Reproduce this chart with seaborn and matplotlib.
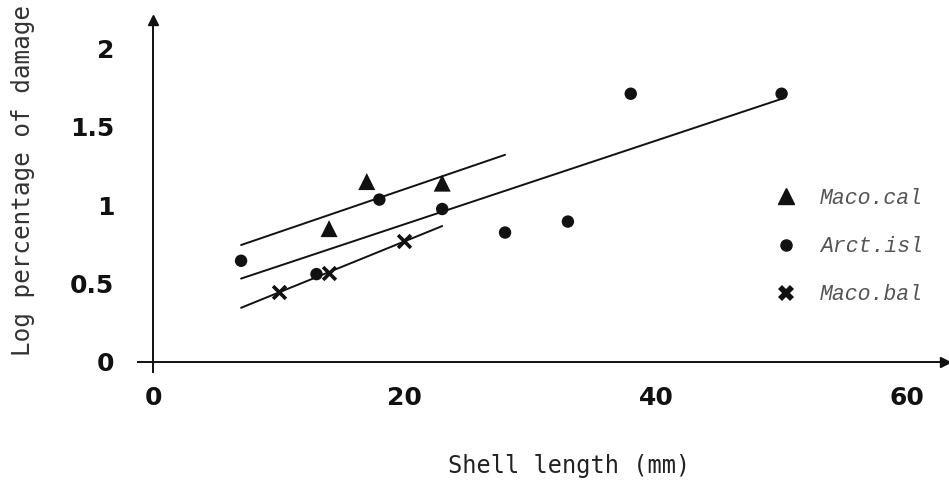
import numpy as np
import pandas as pd
import matplotlib
matplotlib.use("Agg")
import matplotlib.pyplot as plt
import seaborn as sns
from matplotlib.lines import Line2D

# ---- data ----
species = ["Maco.cal", "Arct.isl", "Maco.bal"]
maco_cal_x = [14, 17, 23]
maco_cal_y = [0.85, 1.15, 1.14]
arct_isl_x = [7, 13, 18, 23, 28, 33, 38, 50]
arct_isl_y = [0.645, 0.56, 1.035, 0.975, 0.825, 0.895, 1.71, 1.71]
maco_bal_x = [10, 14, 20]
maco_bal_y = [0.445, 0.57, 0.77]
fit_x_start = [7, 7, 7]
fit_x_end = [28, 50, 23]
x_ticks = [0, 10, 20, 30, 40, 50, 60]
x_tick_labels = ["0", "", "20", "", "40", "", "60"]
y_ticks = [0, 0.5, 1, 1.5, 2]
y_tick_labels = ["0", "0.5", "1", "1.5", "2"]

sns.set_theme(style="white")
plt.rcParams["font.family"] = ["DejaVu Sans"]

groups = {
    "Maco.cal": (maco_cal_x, maco_cal_y),
    "Arct.isl": (arct_isl_x, arct_isl_y),
    "Maco.bal": (maco_bal_x, maco_bal_y),
}
df = pd.concat(
    [pd.DataFrame({"species": k, "x": v[0], "y": v[1]}) for k, v in groups.items()],
    ignore_index=True,
)

fig = plt.figure(figsize=(9.49, 4.8), dpi=100)
ax = fig.add_axes([138 / 949, 1 - 372 / 480, (945 - 138) / 949, (372 - 20) / 480])

# regression lines
for sp, xs, xe in zip(species, fit_x_start, fit_x_end):
    gx, gy = groups[sp]
    slope, icpt = np.polyfit(gx, gy, 1)
    lx = np.array([xs, xe])
    sns.lineplot(x=lx, y=icpt + slope * lx, ax=ax, color="#111111", lw=1.4)

# points
marker_kw = {
    "Maco.cal": dict(marker="^", s=150, color="#111111", edgecolor="none"),
    "Arct.isl": dict(marker="o", s=80, color="#111111", edgecolor="none"),
    "Maco.bal": dict(marker="x", s=85, color="#111111", linewidth=2.6),
}
for sp in species:
    sub = df[df.species == sp]
    sns.scatterplot(data=sub, x="x", y="y", ax=ax, zorder=3, legend=False, **marker_kw[sp])

ax.set_xlim(-1.2, 63)
ax.set_ylim(-0.064, 2.18)

for s in ["top", "right"]:
    ax.spines[s].set_visible(False)
ax.spines["left"].set_position(("data", 0))
ax.spines["bottom"].set_position(("data", 0))
for s in ["left", "bottom"]:
    ax.spines[s].set_color("#111111")
    ax.spines[s].set_linewidth(1.4)

# arrow heads
ax.plot(0, 1, marker="^", color="#111111", markersize=7, transform=ax.get_xaxis_transform(), clip_on=False)
ax.plot(1, 0, marker=">", color="#111111", markersize=7, transform=ax.get_yaxis_transform(), clip_on=False)

ax.set_xticks(x_ticks)
ax.set_xticklabels(x_tick_labels)
ax.set_yticks(y_ticks)
ax.set_yticklabels(y_tick_labels)
ax.tick_params(axis="x", direction="out", length=5, width=1.2, color="#333333", pad=12,
               labelsize=18)
ax.tick_params(axis="y", direction="out", length=9, width=1.2, color="#333333", pad=19,
               labelsize=18)
for lab in ax.get_xticklabels() + ax.get_yticklabels():
    lab.set_fontweight("bold")
    lab.set_color("#111111")

ax.set_xlabel("")
ax.set_ylabel("")
fig.text(569 / 949, 1 - 466 / 480, "Shell length (mm)", ha="center", va="center",
         family=["DejaVu Sans Mono"], fontsize=17, color="#222222")
fig.text(23 / 949, 1 - 180 / 480, "Log percentage of damage", ha="center", va="center",
         rotation=90, family=["DejaVu Sans Mono"], fontsize=17.5, color="#333333")

# legend
handles = [
    Line2D([], [], ls="none", marker="^", markersize=11, color="#111111"),
    Line2D([], [], ls="none", marker="o", markersize=8, color="#111111"),
    Line2D([], [], ls="none", marker="X", markersize=12, color="#111111", markeredgewidth=0),
]
leg = ax.legend(handles, species, loc="upper left", bbox_to_anchor=(762 / 949, 1 - 177 / 480),
                bbox_transform=fig.transFigure, frameon=False, handletextpad=1.0,
                labelspacing=1.27, borderpad=0, handlelength=1.2,
                prop={"family": "Liberation Mono", "style": "italic", "size": 15.5})
for t in leg.get_texts():
    t.set_color("#555555")

fig.savefig("out.png", dpi=100)
